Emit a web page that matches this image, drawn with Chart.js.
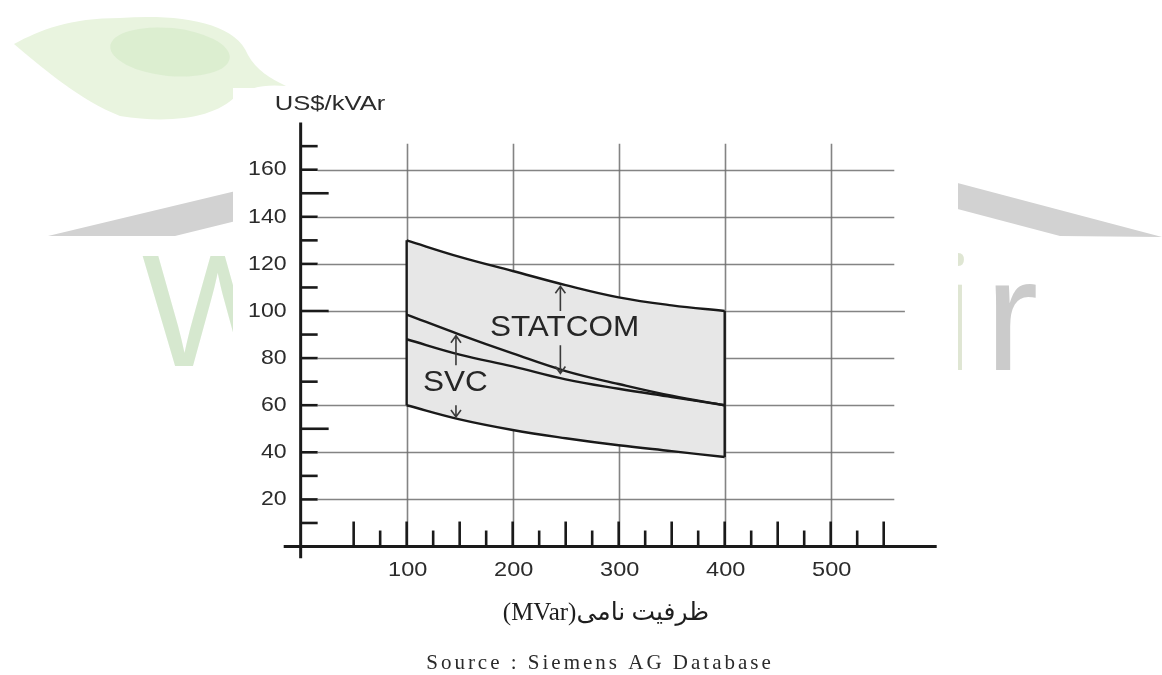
<!DOCTYPE html>
<html>
<head>
<meta charset="utf-8">
<script src="https://cdn.jsdelivr.net/npm/chart.js@4/dist/chart.umd.min.js"></script>
<style>
  html, body { margin: 0; padding: 0; background: #fff; overflow: hidden; }
  #wrap { width: 1162px; height: 675px; position: relative; }
</style>
</head>
<body>
<div id="wrap"><canvas id="c" width="1162" height="675"></canvas></div>
<script>
// Rated capacity (MVar) and cost bands (US$/kVAr)
const capacityMVar  = [100, 150, 200, 250, 300, 350, 400];
const statcomHigh   = [130, 123, 117, 111, 105.8, 102.4, 100];
const svcHigh       = [98.5, 90, 82, 74.5, 69, 64, 60];
const statcomLow    = [88, 81.5, 76.5, 71, 67, 63.5, 60];
const svcLow        = [60, 54, 49.5, 46, 43, 40.5, 38];

const yTickLabels = [20, 40, 60, 80, 100, 120, 140, 160];
const xTickLabels = [100, 200, 300, 400, 500];
const yMinorTicks = [10, 30, 50, 70, 90, 110, 130, 150, 170];
const xMinorTicks = [50, 75, 125, 150, 175, 225, 250, 275, 325, 350, 375, 425, 450, 475, 525, 550];

const yTitle = 'US$/kVAr';
const xTitle = 'ظرفیت نامی(MVar)';
const sourceNote = 'Source : Siemens AG Database';

// Band annotations: label anchor and arrow positions in data units
const bandLabels = [
  { text: 'STATCOM', x: 249, y: 93, arrows: [[245, 100, 110.5], [245, 85.5, 73.5]] },
  { text: 'SVC',     x: 146, y: 69.6, arrows: [[146.5, 77, 89.5], [146.5, 60, 55]] }
];

const pts = ys => capacityMVar.map((x, i) => ({ x: x, y: ys[i] }));
const first = a => a[0], last = a => a[a.length - 1];

const INK = '#1a1a1a';
const GRID = 'rgba(110,110,110,0.85)';

function stretchedText(ctx, text, x, y, font, sx, align, color) {
  ctx.save();
  ctx.font = font;
  ctx.fillStyle = color || '#2b2b2b';
  ctx.textBaseline = 'middle';
  ctx.translate(x, y);
  ctx.scale(sx, 1);
  const w = ctx.measureText(text).width;
  let dx = 0;
  if (align === 'center') dx = -w / 2;
  else if (align === 'right') dx = -w;
  ctx.textAlign = 'left';
  ctx.fillText(text, dx, 0);
  ctx.restore();
}

function arrow(ctx, x, y0, y1) {
  ctx.save();
  ctx.strokeStyle = '#3a3a3a';
  ctx.lineWidth = 1.6;
  ctx.beginPath();
  ctx.moveTo(x, y0);
  ctx.lineTo(x, y1);
  const dir = y1 < y0 ? 1 : -1;
  ctx.moveTo(x - 5, y1 + dir * 7);
  ctx.lineTo(x, y1);
  ctx.lineTo(x + 5, y1 + dir * 7);
  ctx.stroke();
  ctx.restore();
}

const paper = {
  id: 'paper',
  beforeDraw(chart) {
    const ctx = chart.ctx;
    ctx.save();
    ctx.fillStyle = '#ffffff';
    ctx.fillRect(0, 0, chart.width, chart.height);

    // leaf emblem
    ctx.fillStyle = '#e9f4df';
    ctx.beginPath();
    ctx.moveTo(14, 44);
    ctx.bezierCurveTo(40, 30, 70, 18, 120, 18);
    ctx.bezierCurveTo(180, 14, 235, 22, 248, 55);
    ctx.bezierCurveTo(256, 70, 270, 78, 286, 86);
    ctx.bezierCurveTo(262, 84, 250, 88, 236, 96);
    ctx.bezierCurveTo(215, 118, 170, 124, 120, 116);
    ctx.bezierCurveTo(80, 100, 45, 70, 14, 44);
    ctx.fill();
    ctx.fillStyle = 'rgba(205,230,190,0.45)';
    ctx.beginPath();
    ctx.ellipse(170, 52, 60, 24, 0.1, 0, Math.PI * 2);
    ctx.fill();

    // grey swooshes
    ctx.fillStyle = '#d2d2d2';
    ctx.beginPath();
    ctx.moveTo(48, 236); ctx.lineTo(240, 190); ctx.lineTo(240, 220); ctx.lineTo(175, 236);
    ctx.closePath(); ctx.fill();
    ctx.beginPath();
    ctx.moveTo(950, 181); ctx.lineTo(1162, 237); ctx.lineTo(1060, 236); ctx.lineTo(950, 207);
    ctx.closePath(); ctx.fill();

    // lettering
    ctx.font = '160px "Liberation Sans", sans-serif';
    ctx.textBaseline = 'alphabetic';
    ctx.fillStyle = '#d6e8cf';
    ctx.fillText('W', 142, 366);
    ctx.font = '300 160px "Open Sans", "Liberation Sans", sans-serif';
    ctx.fillStyle = '#dfe6d3';
    ctx.fillText('i', 940, 370);
    ctx.fillStyle = '#cbcbcb';
    ctx.font = '160px "Liberation Sans", sans-serif';
    ctx.fillText('r', 985, 370);

    // white sheet behind the plot
    ctx.fillStyle = '#ffffff';
    ctx.fillRect(233, 88, 725, 587);
    ctx.restore();
  },
  beforeDatasetsDraw(chart) {
    const ctx = chart.ctx, xs = chart.scales.x, ys = chart.scales.y;
    ctx.save();
    ctx.strokeStyle = GRID;
    ctx.lineWidth = 1.6;
    // horizontal grid
    yTickLabels.forEach(v => {
      const y = Math.round(ys.getPixelForValue(v)) + 0.5;
      ctx.beginPath();
      ctx.moveTo(xs.getPixelForValue(0) + (v % 50 === 0 ? 27 : 17), y);
      ctx.lineTo(xs.getPixelForValue(v === 100 ? 570 : 560), y);
      ctx.stroke();
    });
    // vertical grid
    xTickLabels.forEach(v => {
      const x = Math.round(xs.getPixelForValue(v)) + 0.5;
      ctx.beginPath();
      ctx.moveTo(x, ys.getPixelForValue(171));
      ctx.lineTo(x, ys.getPixelForValue(0));
      ctx.stroke();
    });
    ctx.restore();
  },
  afterDatasetsDraw(chart) {
    const ctx = chart.ctx, xs = chart.scales.x, ys = chart.scales.y;
    const x0 = xs.getPixelForValue(0), y0 = ys.getPixelForValue(0);
    ctx.save();
    ctx.strokeStyle = INK;
    ctx.lineWidth = 3;
    ctx.lineCap = 'butt';
    // axes
    ctx.beginPath();
    ctx.moveTo(x0, ys.getPixelForValue(180));
    ctx.lineTo(x0, ys.getPixelForValue(-5));
    ctx.moveTo(xs.getPixelForValue(-16), y0);
    ctx.lineTo(xs.getPixelForValue(600), y0);
    ctx.stroke();
    // y ticks
    ctx.lineWidth = 2.6;
    yTickLabels.concat(yMinorTicks).forEach(v => {
      const y = ys.getPixelForValue(v);
      const len = (v % 50 === 0) ? 28 : 17;
      ctx.beginPath();
      ctx.moveTo(x0, y);
      ctx.lineTo(x0 + len, y);
      ctx.stroke();
    });
    // x ticks
    xTickLabels.concat(xMinorTicks).forEach(v => {
      const x = xs.getPixelForValue(v);
      const len = (v % 50 === 0) ? 25 : 16;
      ctx.beginPath();
      ctx.moveTo(x, y0);
      ctx.lineTo(x, y0 - len);
      ctx.stroke();
    });
    ctx.restore();

    const tickFont = '21px "Liberation Sans", Arial, sans-serif';
    yTickLabels.forEach(v => {
      stretchedText(ctx, String(v), x0 - 14, ys.getPixelForValue(v), tickFont, 1.1, 'right');
    });
    xTickLabels.forEach(v => {
      stretchedText(ctx, String(v), xs.getPixelForValue(v) + 1, 570, tickFont, 1.12, 'center');
    });
    stretchedText(ctx, yTitle, 330, 104, tickFont, 1.22, 'center');

    // x-axis title (Persian, right-to-left) and source note
    ctx.save();
    ctx.font = '25px "Liberation Serif", "DejaVu Serif", "DejaVu Sans", serif';
    ctx.fillStyle = '#1e1e1e';
    ctx.textBaseline = 'middle';
    ctx.textAlign = 'center';
    ctx.direction = 'rtl';
    ctx.fillText(xTitle, 606, 613);
    ctx.restore();
    ctx.save();
    ctx.font = '21px "Liberation Serif", "Times New Roman", serif';
    ctx.fillStyle = '#2a2a2a';
    ctx.textBaseline = 'middle';
    ctx.textAlign = 'center';
    ctx.letterSpacing = '3px';
    ctx.fillText(sourceNote, 600, 663);
    ctx.restore();

    // band labels with range arrows
    bandLabels.forEach(b => {
      stretchedText(ctx, b.text, xs.getPixelForValue(b.x), ys.getPixelForValue(b.y),
        '30px "Liberation Sans", Arial, sans-serif', 1.05, 'center', '#262626');
      b.arrows.forEach(a => {
        arrow(ctx, xs.getPixelForValue(a[0]), ys.getPixelForValue(a[1]), ys.getPixelForValue(a[2]));
      });
    });
  }
};

const lineStyle = {
  showLine: true,
  borderColor: INK,
  borderWidth: 2.4,
  pointRadius: 0,
  tension: 0.4
};

new Chart(document.getElementById('c'), {
  type: 'scatter',
  data: {
    datasets: [
      // shaded envelope sits underneath every boundary line
      Object.assign({ label: 'STATCOM high', data: pts(statcomHigh), fill: 3, backgroundColor: '#e7e7e7', order: 10 }, lineStyle),
      Object.assign({ label: 'SVC high', data: pts(svcHigh), fill: false, order: 1 }, lineStyle),
      Object.assign({ label: 'STATCOM low', data: pts(statcomLow), fill: false, order: 1 }, lineStyle),
      Object.assign({ label: 'SVC low', data: pts(svcLow), fill: false, order: 1 }, lineStyle),
      Object.assign({ label: 'left edge', data: [{ x: first(capacityMVar), y: first(svcLow) }, { x: first(capacityMVar), y: first(statcomHigh) }], fill: false, order: 1 }, lineStyle),
      Object.assign({ label: 'right edge', data: [{ x: last(capacityMVar), y: last(svcLow) }, { x: last(capacityMVar), y: last(statcomHigh) }], fill: false, order: 1 }, lineStyle)
    ]
  },
  options: {
    responsive: false,
    animation: false,
    devicePixelRatio: 1,
    layout: { padding: { left: 283.7, right: 225.3, top: 122.6, bottom: 116.7 } },
    plugins: { legend: { display: false }, tooltip: { enabled: false } },
    scales: {
      x: { type: 'linear', min: -16, max: 600, display: false },
      y: { type: 'linear', min: -5, max: 180, display: false }
    }
  },
  plugins: [paper]
});
</script>
</body>
</html>
